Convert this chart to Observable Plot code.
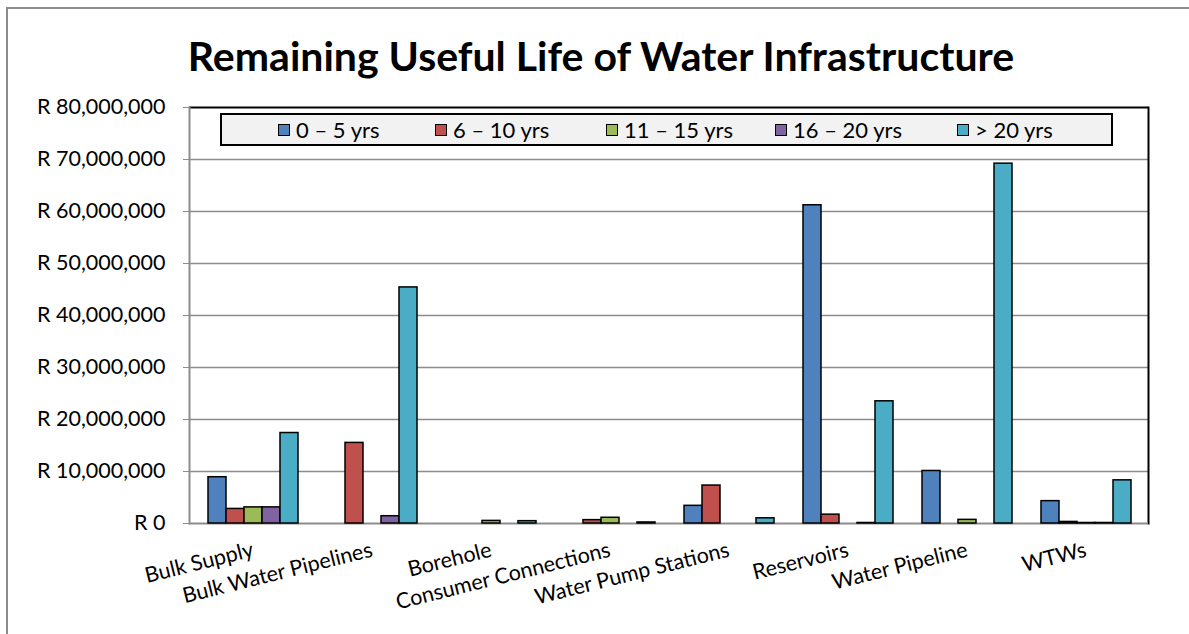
<!DOCTYPE html>
<html>
<head>
<meta charset="utf-8">
<script src="https://cdn.jsdelivr.net/npm/d3@7"></script>
<script src="https://cdn.jsdelivr.net/npm/@observablehq/plot@0.6"></script>
<style>
  html, body { margin: 0; padding: 0; background: #fff; overflow: hidden; }
  #wrap { position: relative; width: 1189px; height: 634px; overflow: hidden; font-family: Lato, "Open Sans", sans-serif; }
  #border { position: absolute; left: 6px; top: 7px; width: 1300px; height: 800px; border: 2px solid #8c8c8c; box-sizing: border-box; }
  #title { position: absolute; left: 0; width: 1202px; top: 35px; text-align: center; font-weight: bold; font-size: 41px; color: #000; line-height: 1; }
  .layer { position: absolute; left: 0; top: 0; }
  #legend { position: absolute; left: 220px; top: 113px; width: 893px; height: 33px; box-sizing: border-box; border: 2px solid #000; background: #f2f2f2; }
  .item { position: absolute; top: 0; height: 29px; display: flex; align-items: center; font-size: 22px; white-space: nowrap; }
  .sw { width: 10px; height: 10px; border: 1px solid #000; margin-right: 6px; }
</style>
</head>
<body>
<div id="wrap">
  <div id="border"></div>
  <div id="title">Remaining Useful Life of Water Infrastructure</div>
  <div id="base" class="layer"></div>
  <div id="bars" class="layer"></div>
  <div id="legend"></div>
</div>
<script>
const categories = ["Bulk Supply", "Bulk Water Pipelines", "Borehole", "Consumer Connections", "Water Pump Stations", "Reservoirs", "Water Pipeline", "WTWs"];
const seriesNames = ["0 – 5 yrs", "6 – 10 yrs", "11 – 15 yrs", "16 – 20 yrs", "> 20 yrs"];
const seriesColors = ["#4f81bd", "#c0504d", "#9bbb59", "#8064a2", "#4bacc6"];
// values in Rand
const yrs0to5   = [8900000, 0, 0, 0, 3400000, 61200000, 10100000, 4300000];
const yrs6to10  = [2800000, 15500000, 0, 650000, 7300000, 1700000, 0, 300000];
const yrs11to15 = [3100000, 0, 500000, 1100000, 0, 0, 700000, 100000];
const yrs16to20 = [3100000, 1400000, 0, 0, 0, 100000, 0, 100000];
const yrsOver20 = [17400000, 45400000, 450000, 200000, 1000000, 23500000, 69200000, 8300000];
const yTicks = [0, 10000000, 20000000, 30000000, 40000000, 50000000, 60000000, 70000000, 80000000];

const seriesValues = [yrs0to5, yrs6to10, yrs11to15, yrs16to20, yrsOver20];
const data = categories.flatMap((c, i) => seriesNames.map((s, j) => ({category: c, series: s, value: seriesValues[j][i]})));

const W = 1189, H = 634;
const common = {
  width: W, height: H,
  marginLeft: 189, marginRight: 41, marginTop: 107, marginBottom: 111,
  style: {fontFamily: "Lato, 'Open Sans', sans-serif", fontSize: "21.5px", background: "transparent", overflow: "visible"}
};
const fmt = d => "R " + d3.format(",")(d);

const base = Plot.plot({
  ...common,
  x: {type: "band", domain: categories, padding: 0, label: null, tickRotate: -14, tickSize: 0, tickPadding: 26},
  y: {domain: [0, 80000000], ticks: yTicks, tickFormat: fmt, label: null, tickSize: 6, tickPadding: 18},
  marks: [
    Plot.ruleY(yTicks.slice(1, -1), {stroke: "#8c8c8c", strokeWidth: 1.5}),
    Plot.ruleY([80000000], {stroke: "#000", strokeWidth: 2}),
    Plot.frame({anchor: "right", stroke: "#000", strokeWidth: 2}),
    Plot.frame({anchor: "left", stroke: "#8c8c8c", strokeWidth: 2}),
    Plot.ruleY([0], {stroke: "#8c8c8c", strokeWidth: 2})
  ]
});
document.getElementById("base").appendChild(base);
d3.select(base).selectAll("g[aria-label^='y-axis'] path").attr("stroke", "#8c8c8c");
d3.select(base).selectAll("g[aria-label^='x-axis']").attr("font-size", 21.5);
d3.select(base).selectAll("g[aria-label^='y-axis']").attr("font-size", 21.5);

const bars = Plot.plot({
  ...common,
  fx: {domain: categories, padding: 0, axis: null, label: null},
  x: {domain: seriesNames, paddingInner: 0, paddingOuter: 0.78, axis: null},
  y: {domain: [0, 80000000], axis: null},
  color: {domain: seriesNames, range: seriesColors},
  marks: [
    Plot.barY(data.filter(d => d.value > 0), {fx: "category", x: "series", y: "value", fill: "series", stroke: "#000", strokeWidth: 1.5})
  ]
});
document.getElementById("bars").appendChild(bars);

// legend
const legendX = [56, 213, 384, 553, 735];
const legend = document.getElementById("legend");
seriesNames.forEach((s, j) => {
  const it = document.createElement("div");
  it.className = "item";
  it.style.left = legendX[j] + "px";
  const sw = document.createElement("div");
  sw.className = "sw";
  sw.style.background = seriesColors[j];
  const t = document.createElement("span");
  t.textContent = s;
  it.appendChild(sw); it.appendChild(t);
  legend.appendChild(it);
});
</script>
</body>
</html>
